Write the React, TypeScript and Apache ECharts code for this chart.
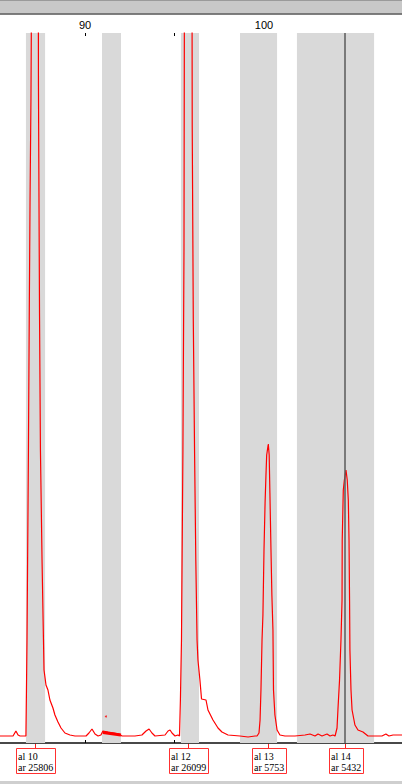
import React, { useEffect, useRef } from "react";
import * as echarts from "echarts";

// Trace (size in bp, signal in RFU)
const traceBp = [
  85.25, 85.98, 86.14, 86.26, 86.37, 86.59, 86.7, 86.73, 86.76, 86.84, 86.89, 86.93, 86.98, 87.0, 87.04,
  87.21, 87.36, 87.4, 87.46, 87.51, 87.6, 87.68, 87.71, 87.82, 87.93, 88.04, 88.21, 88.32, 88.49, 88.66,
  88.88, 89.16, 89.44, 90.06, 90.22, 90.39, 90.56, 90.73, 90.89, 91.0, 91.29, 91.62, 91.9, 92.07, 92.79,
  93.18, 93.41, 93.58, 93.74, 93.91, 94.47, 94.64, 94.75, 94.86, 95.03, 95.19, 95.28, 95.33, 95.39, 95.47,
  95.53, 95.55, 95.59, 95.78, 95.95, 95.99, 96.05, 96.12, 96.19, 96.26, 96.31, 96.42, 96.51, 96.76, 96.87,
  97.15, 97.43, 97.65, 97.99, 98.66, 99.11, 99.5, 99.61, 99.72, 99.78, 99.83, 99.89, 99.94, 100.0, 100.06,
  100.11, 100.15, 100.24, 100.29, 100.33, 100.39, 100.44, 100.5, 100.53, 100.61, 100.73, 100.89, 101.17,
  101.73, 102.29, 102.57, 102.85, 103.02, 103.24, 103.52, 103.69, 103.85, 103.97, 104.08, 104.13, 104.22,
  104.3, 104.36, 104.37, 104.43, 104.49, 104.58, 104.65, 104.71, 104.75, 104.78, 104.8, 104.86, 104.92,
  105.08, 105.25, 105.53, 105.81, 106.2, 106.59, 106.81, 106.98, 107.21, 107.71,
];
const traceRfu = [
  70, 70, 120, 80, 70, 70, 70, 530, 1030, 2930, 4390, 5430, 6430, 7080, 11000,
  14000, 11000, 6570, 4270, 2930, 1830, 1030, 730, 580, 530, 430, 350, 280, 210, 150,
  100, 80, 70, 70, 100, 140, 90, 70, 80, 120, 110, 100, 90, 70, 70,
  80, 120, 140, 100, 70, 80, 120, 130, 100, 70, 80, 70, 430, 1030, 2930,
  4930, 7080, 11500, 15000, 11500, 6170, 4230, 2930, 1830, 1030, 830, 630, 440, 430, 330,
  230, 150, 110, 80, 70, 60, 70, 70, 100, 230, 530, 1030, 1280, 1930, 2400,
  2680, 2880, 2990, 2880, 2500, 1930, 1480, 1130, 530, 280, 130, 80, 70,
  70, 80, 90, 70, 90, 70, 90, 70, 80, 70, 150, 330, 630,
  1030, 1430, 2030, 2530, 2630, 2730, 2630, 2430, 2030, 1430, 930, 530, 330,
  180, 130, 110, 70, 70, 70, 90, 70, 80, 80,
];

// Overlapping noise in bin 2
const noiseBp = [91.0, 91.4, 92.01];
const noiseRfu = [105, 95, 80];
const dotBp = [91.17];
const dotRfu = [265];

// Bins (bp)
const binStart = [86.7, 90.95, 95.36, 98.66, 101.84];
const binEnd = [87.77, 92.01, 96.37, 100.73, 106.15];

// Cursor
const cursorBp = 104.52;

// Called peaks
const peakBp = [87.21, 95.76, 100.23, 104.53];
const peakAllele = ["10", "12", "13", "14"];
const peakArea = [25806, 26099, 5753, 5432];

const X_MIN = 85;
const X_MAX = 110;
const X_INTERVAL = 5;
const Y_MAX = 7100;

export default function App() {
  const ref = useRef<HTMLDivElement>(null);

  useEffect(() => {
    if (!ref.current) return;
    const chart = echarts.init(ref.current, null, { renderer: "svg" });

    const baseX = {
      type: "value",
      min: X_MIN,
      max: X_MAX,
      interval: X_INTERVAL,
      splitLine: { show: false },
    };

    chart.setOption({
      animation: false,
      backgroundColor: "#ffffff",
      grid: {
        left: -4.5,
        width: 447.5,
        top: 33,
        bottom: 41,
        containLabel: false,
        outerBoundsMode: "none",
      },
      xAxis: [
        {
          ...baseX,
          position: "top",
          axisLine: { show: true, lineStyle: { color: "#3c3c3c", width: 1.5 } },
          axisTick: { show: true, length: 3, lineStyle: { color: "#000", width: 1 } },
          axisLabel: {
            show: true,
            margin: 3,
            color: "#000000",
            fontSize: 11,
            fontFamily: "Liberation Sans",
            formatter: (v: number) => (v % 10 === 0 && v < 110 ? String(v) : ""),
          },
        },
        {
          ...baseX,
          position: "top",
          axisLine: { show: false },
          axisTick: { show: true, inside: true, length: 3, lineStyle: { color: "#000", width: 1 } },
          axisLabel: { show: false },
        },
        {
          ...baseX,
          position: "bottom",
          axisLine: { show: true, lineStyle: { color: "#3c3c3c", width: 1.5 } },
          axisTick: { show: false },
          axisLabel: { show: false },
        },
      ],
      yAxis: {
        type: "value",
        min: 0,
        max: Y_MAX,
        show: false,
        splitLine: { show: false },
      },
      series: [
        {
          type: "line",
          xAxisIndex: 0,
          data: traceBp.map((x, i) => [x, traceRfu[i]]),
          showSymbol: false,
          symbol: "none",
          clip: true,
          lineStyle: { color: "#ff0000", width: 1.2 },
          z: 3,
          markArea: {
            silent: true,
            itemStyle: { color: "#d9d9d9" },
            data: binStart.map((s, i) => [{ xAxis: s }, { xAxis: binEnd[i] }]),
          },
          markLine: {
            silent: true,
            symbol: ["none", "none"],
            label: { show: false },
            lineStyle: { color: "#5a5a5a", width: 1.5, type: "solid" },
            data: [{ xAxis: cursorBp }],
          },
        },
        {
          type: "line",
          xAxisIndex: 0,
          data: noiseBp.map((x, i) => [x, noiseRfu[i]]),
          showSymbol: false,
          symbol: "none",
          lineStyle: { color: "#ff0000", width: 3 },
          z: 4,
        },
        {
          type: "scatter",
          xAxisIndex: 0,
          data: dotBp.map((x, i) => [x, dotRfu[i]]),
          symbolSize: 2,
          itemStyle: { color: "#ff0000" },
          z: 4,
        },
      ],
    });

    // label boxes under the peaks
    const ctx = document.createElement("canvas").getContext("2d");
    const fontFamily = "Liberation Serif";
    if (ctx) ctx.font = "10px " + fontFamily;
    const axisY = 743;
    const elements: any[] = [
      { type: "rect", shape: { x: 0, y: 0, width: 402, height: 13.5 }, style: { fill: "#c8c8c8" }, silent: true },
      { type: "line", shape: { x1: 0, y1: 0.5, x2: 402, y2: 0.5 }, style: { stroke: "#9a9a9a", lineWidth: 1 }, silent: true },
      { type: "line", shape: { x1: 0, y1: 14, x2: 402, y2: 14 }, style: { stroke: "#555555", lineWidth: 1.5 }, silent: true },
      { type: "rect", shape: { x: 0, y: 781, width: 402, height: 3 }, style: { fill: "#cfcfcf" }, silent: true },
    ];
    peakBp.forEach((bp, i) => {
      const px = chart.convertToPixel({ xAxisIndex: 0 }, bp) as number;
      const l1 = "al " + peakAllele[i];
      const l2 = "ar " + peakArea[i];
      const w = ctx ? Math.max(ctx.measureText(l1).width, ctx.measureText(l2).width) : 36;
      const boxW = Math.round(w + 4);
      const left = Math.round(px + 0.5 - boxW / 2);
      elements.push({
        type: "line",
        shape: { x1: Math.round(px) + 0.5, y1: axisY, x2: Math.round(px) + 0.5, y2: 748 },
        style: { stroke: "#ff2020", lineWidth: 1 },
        silent: true,
      });
      elements.push({
        type: "rect",
        shape: { x: left + 0.5, y: 748.5, width: boxW, height: 25 },
        style: { fill: "#ffffff", stroke: "#ff3030", lineWidth: 1 },
        silent: true,
      });
      elements.push({
        type: "text",
        x: left + 2,
        y: 751,
        style: {
          text: l1 + "\n" + l2,
          fontSize: 10,
          fontFamily,
          fill: "#000000",
          lineHeight: 11,
          align: "left",
          verticalAlign: "top",
        },
        silent: true,
      });
    });
    chart.setOption({ graphic: { elements } });

    return () => chart.dispose();
  }, []);

  return (
    <div
      ref={ref}
      style={{ position: "absolute", left: 0, top: 0, width: 402, height: 784 }}
    />
  );
}
